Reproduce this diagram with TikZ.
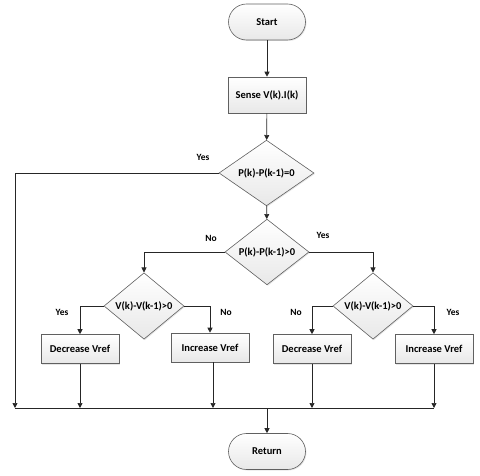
\documentclass[tikz,border=0pt]{standalone}
\usepackage{fontspec}
\setmainfont{Carlito}
\usetikzlibrary{arrows.meta,shapes.geometric,shadows}
\begin{document}
\begin{tikzpicture}[x=1pt,y=-1pt,
  font=\bfseries\fontsize{10.5}{12}\selectfont,
  shp/.style={draw=gray!75!black, line width=0.6pt, top color=white, bottom color=gray!18,
    drop shadow={shadow xshift=1pt,shadow yshift=-1pt,opacity=0.2}},
  term/.style={shp, rounded corners=18pt, minimum width=77pt, minimum height=36pt, inner sep=0pt},
  proc/.style={shp, minimum width=78pt, minimum height=29pt, inner sep=0pt},
  dec/.style={shp, diamond, inner sep=0pt},
  arr/.style={draw=gray!30!black, line width=0.7pt, -{Triangle[length=5pt,width=5pt]}},
  ln/.style={draw=gray!30!black, line width=0.7pt},
  lbl/.style={font=\bfseries\fontsize{9.5}{11}\selectfont, inner sep=0pt}]
\useasboundingbox (0,0) rectangle (480,476);
\node[term] (start) at (267,22) {Start};
\node[proc, minimum height=36pt] (sense) at (267,95) {Sense V(k).I(k)};
\node[dec, minimum width=95pt, minimum height=50pt] (d1) at (266.5,173) {P(k)-P(k-1)=0};
\node[dec, minimum width=84pt, minimum height=53pt] (d2) at (267,252) {P(k)-P(k-1)>0};
\node[dec, minimum width=80pt, minimum height=55pt] (d3) at (144,306) {V(k)-V(k-1)>0};
\node[dec, minimum width=80pt, minimum height=55pt] (d4) at (373,306) {V(k)-V(k-1)>0};
\node[proc] (dec1) at (80,349) {Decrease Vref};
\node[proc] (inc1) at (210,347.5) {Increase Vref};
\node[proc] (dec2) at (312,349) {Decrease Vref};
\node[proc] (inc2) at (434,349) {Increase Vref};
\node[term] (ret) at (267,451.5) {Return};
\coordinate (b0) at (15,408);
\coordinate (b1) at (80,408);
\coordinate (b2) at (213,408);
\coordinate (b3) at (312,408);
\coordinate (b4) at (434,408);
\coordinate (bm) at (267,408);
\draw[arr] (start) -- (sense);
\draw[arr] (sense) -- (d1);
\draw[arr] (d1) -- (d2);
\draw[arr] (d1.west) -| (b0);
\draw[arr] (d2.west) -| (d3.north);
\draw[arr] (d2.east) -| (d4.north);
\draw[arr] (d3.west) -| (dec1.north);
\draw[arr] (d3.east) -| (inc1.north);
\draw[arr] (d4.west) -| (dec2.north);
\draw[arr] (d4.east) -| (inc2.north);
\draw[arr] (dec1.south) -- (b1);
\draw[arr] (inc1.south -| b2) -- (b2);
\draw[arr] (dec2.south) -- (b3);
\draw[arr] (inc2.south) -- (b4);
\draw[ln] (b0) -- (b4);
\draw[arr] (bm) -- (ret);
\node[lbl] (l1) at (203,157) {Yes};
\node[lbl] (l2) at (211,238) {No};
\node[lbl] (l3) at (323,235) {Yes};
\node[lbl] (l4) at (62,312) {Yes};
\node[lbl] (l5) at (226,312) {No};
\node[lbl] (l6) at (296,312) {No};
\node[lbl] (l7) at (453,312) {Yes};
\end{tikzpicture}
\end{document}
